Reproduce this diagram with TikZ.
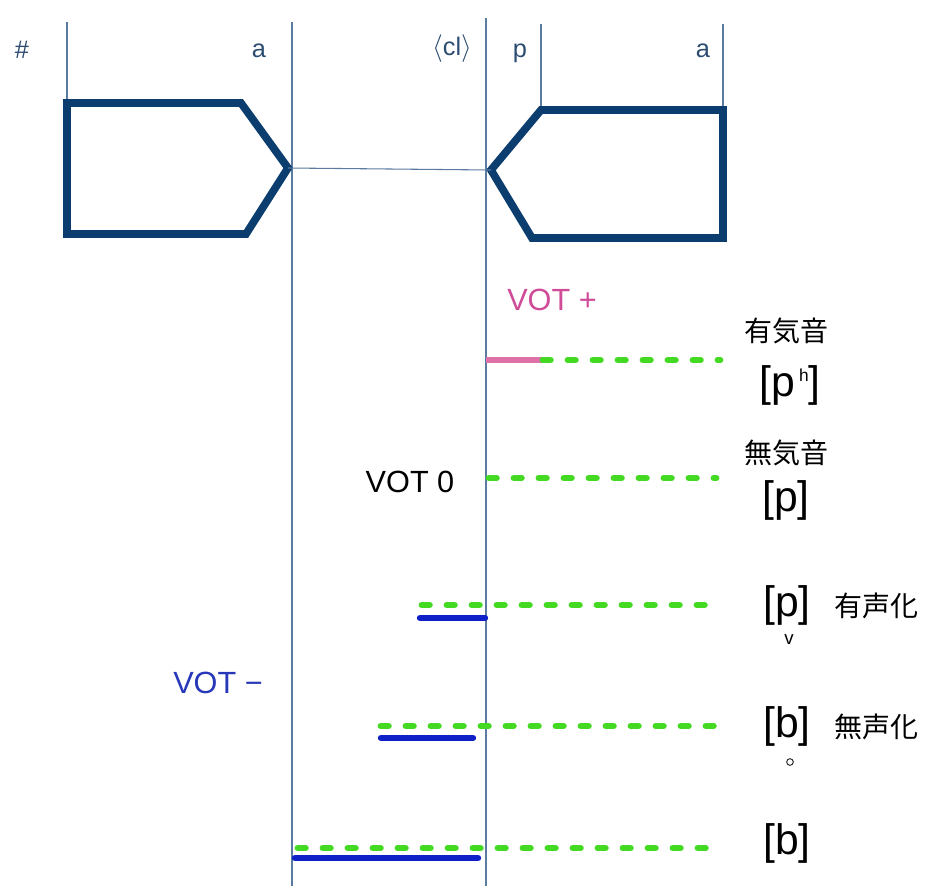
\documentclass[tikz,border=0pt]{standalone}
\usepackage{fontspec}
\setmainfont{Liberation Sans}
\newfontfamily\cjk{Noto Sans CJK JP}
\definecolor{boxblue}{HTML}{0B3D6E}
\definecolor{vline}{HTML}{5B7BA0}
\definecolor{lbl}{HTML}{2C4C70}
\definecolor{grn}{HTML}{44D922}
\definecolor{blu}{HTML}{1020C8}
\definecolor{pnk}{HTML}{E070A8}
\definecolor{pnktxt}{HTML}{D04C98}
\definecolor{votblue}{HTML}{2638B8}
\begin{document}
\begin{tikzpicture}[x=0.75pt,y=-0.75pt,
  guide/.style={draw=vline,line width=1.1pt},
  segbox/.style={draw=boxblue,line width=5.8pt,line join=miter},
  greendash/.style={draw=grn,line width=5.2pt,line cap=round,dash pattern=on 5.5pt off 13.25pt},
  bluebar/.style={draw=blu,line width=4.8pt,line cap=round},
  pinkbar/.style={draw=pnk,line width=4pt},
  small/.style={text=lbl,font=\fontsize{19}{19}\selectfont,inner sep=0pt},
  votlbl/.style={font=\fontsize{23}{23}\selectfont,inner sep=0pt},
  ipa/.style={font=\fontsize{32}{32}\selectfont,inner sep=0pt},
  kanji/.style={font=\cjk\fontsize{21}{21}\selectfont,inner sep=0pt}]
\useasboundingbox (0,0) rectangle (925,886);
% vertical guide lines
\coordinate (g1t) at (67,22);   \coordinate (g1b) at (67,103);
\coordinate (g2t) at (292,22);  \coordinate (g2b) at (292,886);
\coordinate (g3t) at (486,18);  \coordinate (g3b) at (486,886);
\coordinate (g4t) at (541,24);  \coordinate (g4b) at (541,110);
\coordinate (g5t) at (723,24);  \coordinate (g5b) at (723,110);
\draw[guide] (g1t) -- (g1b);
\draw[guide] (g2t) -- (g2b);
\draw[guide] (g3t) -- (g3b);
\draw[guide] (g4t) -- (g4b);
\draw[guide] (g5t) -- (g5b);
% left segment box
\coordinate (lp) at (288,168);
\coordinate (rp) at (491,170);
\draw[segbox] (67,103) -- (241,103) -- (lp) -- (246,234) -- (67,234) -- cycle;
% right segment box
\draw[segbox] (rp) -- (541,110) -- (723,110) -- (723,238) -- (532,238) -- cycle;
% closure line
\draw[draw=vline,line width=0.8pt] (lp) -- (rp);
% top labels
\node[small] (hash) at (22,50) {\#};
\node[small] (a1) at (259,51) {a};
\node[small] (cl) at (452,49) {\fontsize{22}{22}\selectfont$\langle$\fontsize{19}{19}\selectfont cl\fontsize{22}{22}\selectfont$\rangle$};
\node[small] (p1) at (520,53) {p};
\node[small] (a2) at (703,51) {a};
% VOT labels
\node[votlbl,text=pnktxt] (vplus) at (552,300) {VOT +};
\node[votlbl,text=black] (vzero) at (410,482) {VOT 0};
\node[votlbl,text=votblue] (vminus) at (218,683) {VOT −};
% row 1: aspirated
\coordinate (r1a) at (486,360); \coordinate (r1b) at (543,360); \coordinate (r1c) at (720,360);
\draw[pinkbar] (r1a) -- (r1b);
\draw[greendash] (r1b) -- (r1c);
\node[kanji] (k1) at (786,331) {有気音};
\node[ipa] (ph) at (790,385) {[p\hspace{3pt}\raisebox{11pt}{\fontsize{13}{13}\selectfont h}]};
% row 2: unaspirated
\coordinate (r2a) at (489,478); \coordinate (r2b) at (716,478);
\draw[greendash] (r2a) -- (r2b);
\node[kanji] (k2) at (786,453) {無気音};
\node[ipa] (p2) at (786,500) {[p]};
% row 3: voiced p
\coordinate (r3a) at (422,605); \coordinate (r3b) at (716,605);
\coordinate (b3a) at (420,618); \coordinate (b3b) at (485,618);
\draw[bluebar] (b3a) -- (b3b);
\draw[greendash] (r3a) -- (r3b);
\node[ipa] (p3) at (787,605) {[p]};
\node[text=black,font=\fontsize{14}{14}\selectfont,inner sep=0pt] (v3) at (789,640) {v};
\node[kanji] (k3) at (876,606) {有声化};
% row 4: devoiced b
\coordinate (r4a) at (381,726); \coordinate (r4b) at (722,726);
\coordinate (b4a) at (381,738); \coordinate (b4b) at (473,738);
\draw[bluebar] (b4a) -- (b4b);
\draw[greendash] (r4a) -- (r4b);
\node[ipa] (b4) at (787,726) {[b]};
\node[draw=black,circle,line width=0.6pt,minimum size=5pt,inner sep=0pt] (ring) at (790,762) {};
\node[kanji] (k4) at (876,727) {無声化};
% row 5: voiced b
\coordinate (r5a) at (298,848); \coordinate (r5b) at (722,848);
\coordinate (b5a) at (295,858); \coordinate (b5b) at (478,858);
\draw[bluebar] (b5a) -- (b5b);
\draw[greendash] (r5a) -- (r5b);
\node[ipa] (b5) at (787,843) {[b]};
\end{tikzpicture}
\end{document}
